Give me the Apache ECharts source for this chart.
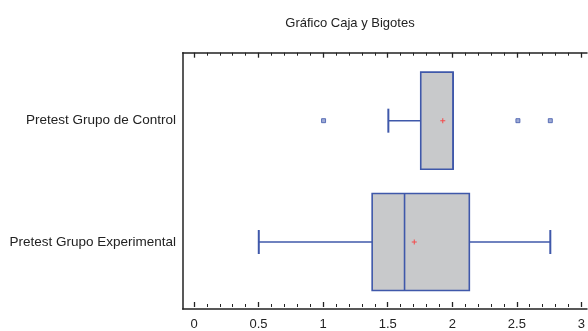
<!DOCTYPE html>
<html><head><meta charset="utf-8">
<script src="https://cdn.jsdelivr.net/npm/echarts@6/dist/echarts.min.js"></script>
<style>html,body{margin:0;padding:0;background:#fff}#c{width:588px;height:331px}</style>
</head><body><div id="c"></div>
<script>
const title = 'Gráfico Caja y Bigotes';
const categories = ['Pretest Grupo de Control', 'Pretest Grupo Experimental'];
// [min whisker, Q1, median, Q3, max whisker]
const boxStats = [
  [1.5, 1.75, 2.0, 2.0, 2.0],
  [0.5, 1.375, 1.625, 2.125, 2.75]
];
const means = [1.92, 1.70];
const outliers = [[1.0, 0], [2.5, 0], [2.75, 0]];

const FONT = '"Liberation Sans",Arial,sans-serif';
const BLUE = '#3f58aa';
const chart = echarts.init(document.getElementById('c'), null, {renderer: 'canvas'});

const boxData = boxStats.map((s, i) => [i].concat(s));

const tickAxis = (pos, labels) => ({
  gridIndex: 1, type: 'value', position: pos, min: 0, max: 3, interval: 0.5,
  axisLine: {show: false},
  axisTick: {inside: true, length: 5, lineStyle: {color: '#222', width: 1.3}},
  minorTick: {show: true, splitNumber: 5, length: 3, lineStyle: {color: '#222', width: 1}},
  axisLabel: labels ? {margin: 11, fontFamily: FONT, fontSize: 13, color: '#222',
    formatter: v => String(v)} : {show: false},
  splitLine: {show: false}
});

chart.setOption({
  animation: false,
  title: {text: title, left: 345, top: 12, textAlign: 'center',
    textStyle: {fontFamily: FONT, fontSize: 13, fontWeight: 'normal', color: '#222'}},
  grid: [
    {left: 182.7, right: 1, top: 52.7, bottom: 22, containLabel: false},
    {left: 194, right: 5.3, top: 52.7, bottom: 22, containLabel: false},
    {left: 194, right: 5.3, top: 60, bottom: 28.3, containLabel: false}
  ],
  xAxis: [
    {gridIndex: 0, type: 'value', position: 'bottom', min: 0, max: 1,
      axisLine: {lineStyle: {color: '#222', width: 1.5}},
      axisTick: {show: false}, axisLabel: {show: false}, splitLine: {show: false}},
    {gridIndex: 0, type: 'value', position: 'top', min: 0, max: 1,
      axisLine: {lineStyle: {color: '#222', width: 1.5}},
      axisTick: {show: false}, axisLabel: {show: false}, splitLine: {show: false}},
    tickAxis('bottom', true),
    tickAxis('top', false),
    {gridIndex: 2, type: 'value', min: 0, max: 3, show: false}
  ],
  yAxis: [
    {gridIndex: 0, type: 'value', min: 0, max: 1,
      axisLine: {show: true, lineStyle: {color: '#222', width: 1.5}},
      axisTick: {show: false}, axisLabel: {show: false}, splitLine: {show: false}},
    {gridIndex: 1, type: 'value', min: 0, max: 1, show: false},
    {gridIndex: 2, type: 'category', data: categories, inverse: true,
      axisLine: {show: false}, axisTick: {show: false}, splitLine: {show: false},
      axisLabel: {margin: 18, fontFamily: FONT, fontSize: 13.5, color: '#222'}}
  ],
  series: [
    {
      type: 'custom', xAxisIndex: 4, yAxisIndex: 2, data: boxData,
      encode: {x: [1, 2, 3, 4, 5], y: 0},
      renderItem: function (params, api) {
        const c = api.value(0);
        const mn = api.coord([api.value(1), c]);
        const q1 = api.coord([api.value(2), c]);
        const md = api.coord([api.value(3), c]);
        const q3 = api.coord([api.value(4), c]);
        const mx = api.coord([api.value(5), c]);
        const band = api.size([0, 1])[1];
        const hw = band * 0.8 / 2;
        const cap = 12;
        const y = q1[1];
        const ls = {stroke: BLUE, lineWidth: 1.6};
        const children = [
          {type: 'rect', shape: {x: q1[0], y: y - hw, width: q3[0] - q1[0], height: 2 * hw},
            style: {fill: '#c8c9cb', stroke: BLUE, lineWidth: 1.6}},
          {type: 'line', shape: {x1: md[0], y1: y - hw, x2: md[0], y2: y + hw}, style: ls}
        ];
        if (mn[0] < q1[0]) {
          children.push({type: 'line', shape: {x1: mn[0], y1: y, x2: q1[0], y2: y}, style: ls});
          children.push({type: 'line', shape: {x1: mn[0], y1: y - cap, x2: mn[0], y2: y + cap}, style: {stroke: BLUE, lineWidth: 2}});
        }
        if (mx[0] > q3[0]) {
          children.push({type: 'line', shape: {x1: q3[0], y1: y, x2: mx[0], y2: y}, style: ls});
          children.push({type: 'line', shape: {x1: mx[0], y1: y - cap, x2: mx[0], y2: y + cap}, style: {stroke: BLUE, lineWidth: 2}});
        }
        return {type: 'group', children: children};
      },
      z: 2
    },
    {
      type: 'scatter', xAxisIndex: 4, yAxisIndex: 2,
      data: means.map((m, i) => [m, i]),
      symbol: 'path://M2,0H3V2H5V3H3V5H2V3H0V2H2Z', symbolSize: 5,
      itemStyle: {color: '#ff2a2a'}, z: 5
    },
    {
      type: 'scatter', xAxisIndex: 4, yAxisIndex: 2,
      data: outliers,
      symbol: 'rect', symbolSize: 4,
      itemStyle: {color: '#8796cc', borderColor: BLUE, borderWidth: 1}, z: 5
    }
  ]
});
</script></body></html>
